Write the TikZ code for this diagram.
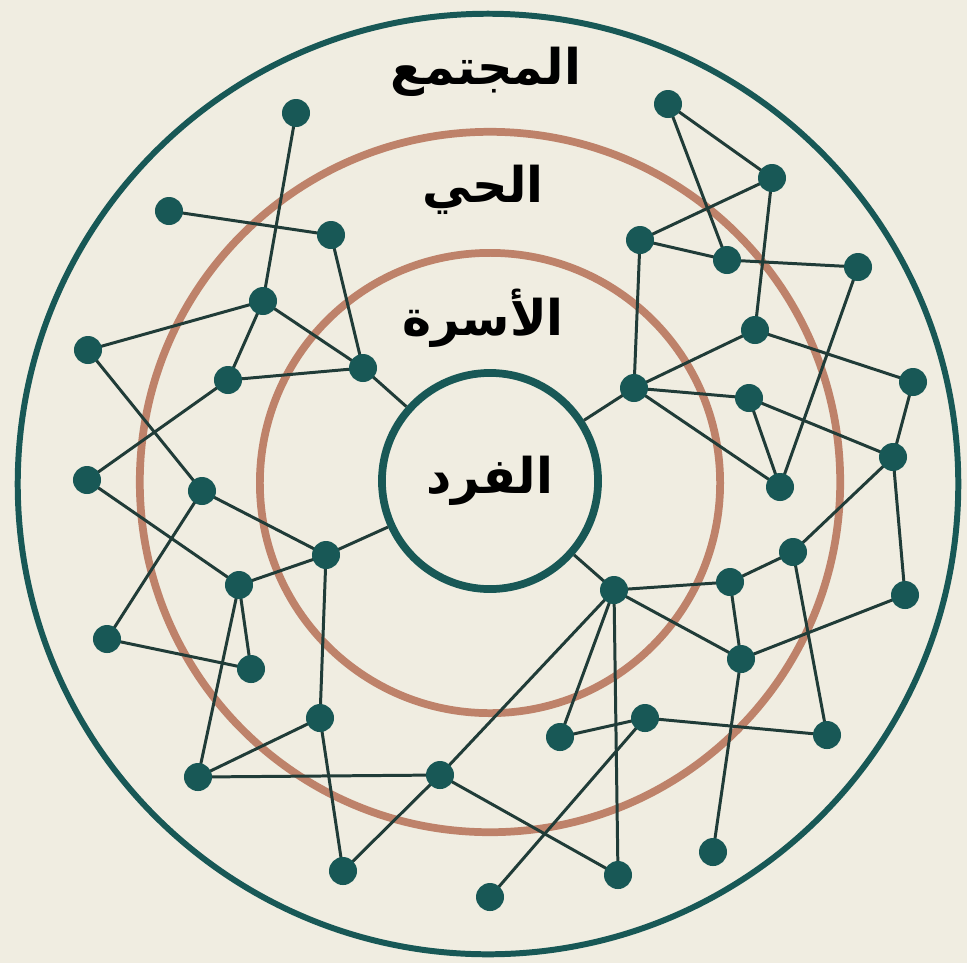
\documentclass[tikz,border=0pt]{standalone}
\usepackage{fontspec}
\usepackage{tikz}
\usetikzlibrary{positioning}
\TeXXeTstate=1
\newfontfamily\arabicfont[Script=Arabic]{DejaVu Sans}
\definecolor{DarkTeal}{RGB}{24,88,86}
\definecolor{LinkGreen}{RGB}{32,60,56}
\definecolor{Clay}{RGB}{190,130,106}
\definecolor{Cream}{RGB}{240,237,225}
\tikzset{
	dot/.style={circle, fill=DarkTeal, inner sep=0pt, minimum size=0.28cm},
	link/.style={LinkGreen, line width=0.85pt},
	ring/.style={Clay, line width=2.2pt},
	ringname/.style={font=\arabicfont\bfseries\fontsize{14}{16}\selectfont, text=black}
}

\begin{document}
\begin{tikzpicture}[x=0.01cm, y=-0.01cm]
				\fill[Cream] (0,0) rectangle (967,963);
				\useasboundingbox (0,0) rectangle (967,963);
				% rings
				\draw[DarkTeal, line width=1.7pt] (488,484) circle (4.70cm);
				\draw[ring] (490,482) circle (3.50cm);
				\draw[ring] (490,483) circle (2.30cm);
				\node[circle, draw=DarkTeal, line width=2.2pt, minimum size=2.16cm, inner sep=0pt, ringname] (fard) at (490,481) {\beginR الفرد\endR};
				\node[ringname] (mujtama) at (486,72) {\beginR المجتمع\endR};
				\node[ringname] (hay) at (483,190) {\beginR الحي\endR};
				\node[ringname] (usra) at (483,318) {\beginR الأسرة\endR};
				% network
				\foreach \n/\x/\y in {a1/296/113, a2/169/211, a3/331/235, a4/263/301, a5/88/350, a6/228/380,
						a7/363/368, a8/87/480, a9/202/491, a10/326/555, a11/239/585, a12/107/639,
						a13/251/669, a14/320/718, a15/198/777, a16/440/775, a17/343/871, a18/490/897,
						b1/668/104, b2/772/178, b3/640/240, b4/727/260, b5/858/267, b6/755/330,
						b7/634/388, b8/749/398, b9/913/382, b10/893/457, b11/780/487, b12/793/552,
						b13/730/582, b14/614/590, b15/905/595, b16/741/659, b17/560/737, b18/645/718,
						b19/827/735, b20/618/875, b21/713/852}
					\coordinate (\n) at (\x,\y);
				\foreach \u/\v in {a1/a4, a2/a3, a3/a7, a4/a5, a4/a6, a4/a7, a6/a7, a6/a8, a5/a9,
						a9/a10, a9/a12, a8/a11, a10/a11, a11/a13, a11/a15, a12/a13, a10/a14, a14/a15,
						a14/a17, a15/a16, a16/a17, a16/b20, a16/b14, a7/fard, a10/fard,
						b1/b2, b1/b4, b2/b3, b3/b4, b4/b5, b2/b6, b3/b7, b6/b7, b6/b9, b5/b11,
						b7/b8, b7/b11, b8/b11, b8/b10, b9/b10, b7/fard, b10/b12, b12/b13, b13/b14,
						b14/fard, b14/b16, b13/b16, b16/b15, b15/b10, b12/b19, b18/b19, b17/b18,
						b14/b17, b14/b20, b16/b21, b18/a18}
					\draw[link] (\u) -- (\v);
				\foreach \n in {a1,a2,a3,a4,a5,a6,a7,a8,a9,a10,a11,a12,a13,a14,a15,a16,a17,a18,
						b1,b2,b3,b4,b5,b6,b7,b8,b9,b10,b11,b12,b13,b14,b15,b16,b17,b18,b19,b20,b21}
					\node[dot] (d\n) at (\n) {};
			\end{tikzpicture}
\end{document}
